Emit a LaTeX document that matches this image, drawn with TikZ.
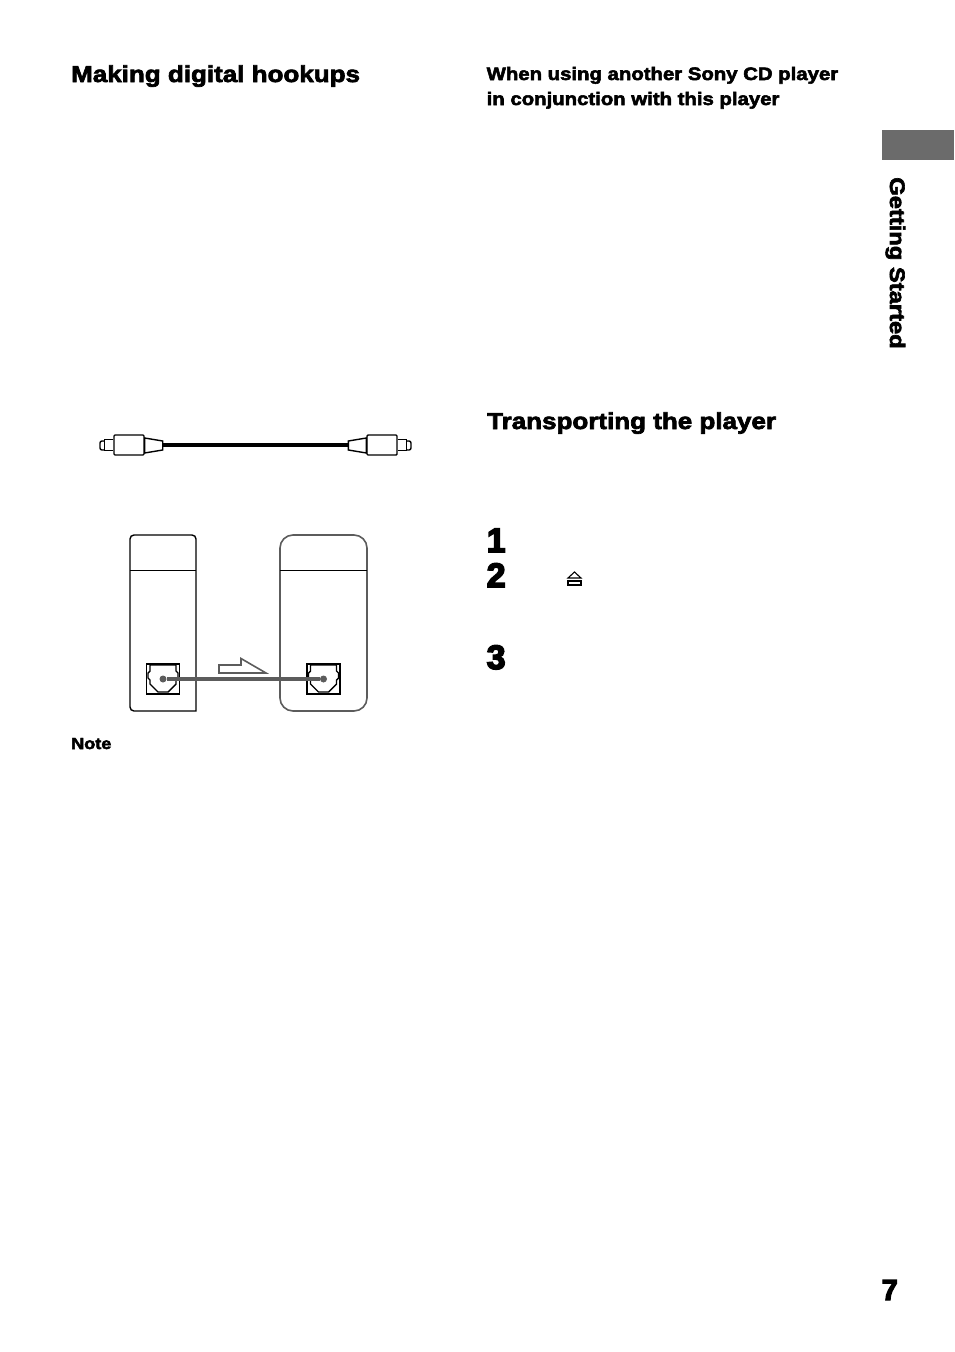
\documentclass[tikz,border=0pt]{standalone}
\usepackage{fontspec}
\setmainfont{Liberation Sans}[FakeBold=3,FakeStretch=1.13]
\newfontfamily\numfont{Liberation Sans}[FakeBold=4.5]
\usetikzlibrary{calc}

\begin{document}
\begin{tikzpicture}[x=1pt, y=-1pt, line width=1.4pt]
                \definecolor{linegray}{gray}{0.36}
                \definecolor{tabgray}{gray}{0.42}
                \tikzstyle{heading} = [anchor=base west, inner sep=0pt, font=\bfseries\fontsize{23}{23}\selectfont]
                \tikzstyle{subhead} = [anchor=base west, inner sep=0pt, font=\bfseries\fontsize{18}{18}\selectfont]
                \tikzstyle{stepnum} = [anchor=base west, inner sep=0pt, font=\numfont\bfseries\fontsize{34}{34}\selectfont]
                \tikzstyle{jack}    = [rectangle, draw, line width=1.2pt, minimum width=33pt, minimum height=30pt, inner sep=0pt]
                \tikzstyle{plug}    = [rectangle, draw, fill=white, rounded corners=1pt, inner sep=0pt, minimum width=30pt, minimum height=20pt]
                \tikzstyle{tip}     = [rectangle, draw, fill=white, rounded corners=2pt, inner sep=0pt, minimum width=6pt, minimum height=9pt]
                \tikzstyle{pin}     = [circle, fill=linegray, inner sep=0pt, outer sep=0pt, minimum width=7pt]
                \useasboundingbox (0, 0) rectangle (954, 1352);
                \fill[white] (0, 0) rectangle (954, 1352);
                %%Texts
                \node [heading](title1) at (70.5, 82) {Making digital hookups};
                \node [subhead](title2) at (486, 80) {When using another Sony CD player};
                \node [subhead](title3) at (486, 105) {in conjunction with this player};
                \node [heading](title4) at (486.5, 429) {Transporting the player};
                \node [anchor=base west, inner sep=0pt, font=\bfseries\fontsize{16}{16}\selectfont](note) at (70.5, 749) {Note};
                \node [stepnum](num1) at (486, 552) {1};
                \node [stepnum](num2) at (486, 587) {2};
                \node [stepnum](num3) at (486, 669) {3};
                \node [anchor=base west, inner sep=0pt, font=\numfont\bfseries\fontsize{29}{29}\selectfont](page) at (881, 1300) {7};
                %%Side tab
                \fill[tabgray] (882, 130) rectangle (954, 160);
                \node [anchor=base, inner sep=0pt, rotate=-90, font=\bfseries\fontsize{21}{21}\selectfont](side) at (890, 263) {Getting Started};
                %%Cable
                \node [plug](plugl) at (129, 445) {};
                \node [plug](plugr) at (382, 445) {};
                \node [tip](tipl) at (103, 445.5) {};
                \node [tip](tipr) at (408, 445.5) {};
                \draw[fill=white] (plugl.east) ++(0, -7) -- ++(18, 3) -- ++(0, 9) -- ++(-18, 3) -- cycle;
                \draw[fill=white] (plugr.west) ++(0, -7) -- ++(-18, 3) -- ++(0, 9) -- ++(18, 3) -- cycle;
                \draw[fill=white] (plugl.west) ++(0, -5.5) -- ++(-9, 0) -- ++(0, 11) -- ++(9, 0);
                \draw[fill=white] (plugr.east) ++(0, -5.5) -- ++(9, 0) -- ++(0, 11) -- ++(-9, 0);
                \coordinate (cablel) at (162, 445);
                \coordinate (cabler) at (349, 445);
                \draw[line width=3.2pt] (cablel)--(cabler);
                %%Players
                \draw[rounded corners=4pt] (196, 711) -- (130, 711) -- (130, 535) -- (196, 535) [sharp corners] -- cycle;
                \draw[linegray, line width=1.6pt, rounded corners=13pt] (280, 535) rectangle (367, 711);
                \draw (130, 570.5)--(196, 570.5);
                \draw (280, 570.5)--(367, 570.5);
                %%Jacks
                \node [jack](jackl) at (163, 679) {};
                \node [jack](jackr) at (323.5, 679) {};
                \foreach \name in {jackl, jackr}
                {
                    \draw ($(\name)+(-13, -14)$) -- ($(\name)+(13, -14)$) -- ($(\name)+(13, -8)$) -- ($(\name)+(15, -6)$) -- ($(\name)+(15, -1)$) -- ($(\name)+(13, 1)$) -- ($(\name)+(13, 5)$) -- ($(\name)+(5, 13)$) -- ($(\name)+(-5, 13)$) -- ($(\name)+(-13, 5)$) -- ($(\name)+(-13, 1)$) -- ($(\name)+(-15, -1)$) -- ($(\name)+(-15, -6)$) -- ($(\name)+(-13, -8)$) -- cycle;
                }
                \node [pin](pinl) at (jackl) {};
                \node [pin](pinr) at (jackr) {};
                \draw[linegray, line width=3.2pt] (pinl)--(pinr);
                %%Arrow
                \draw[linegray, line width=1.6pt] (219, 665) -- (241, 665) -- (241, 658.5) -- (266, 673) -- (219, 673) -- cycle;
                %%Eject
                \draw[line width=1.1pt] (568, 578) -- (574.5, 572) -- (581, 578) -- cycle;
                \draw[line width=1.1pt, fill=white] (568, 581) rectangle (581, 585);
 \end{tikzpicture}
\end{document}
